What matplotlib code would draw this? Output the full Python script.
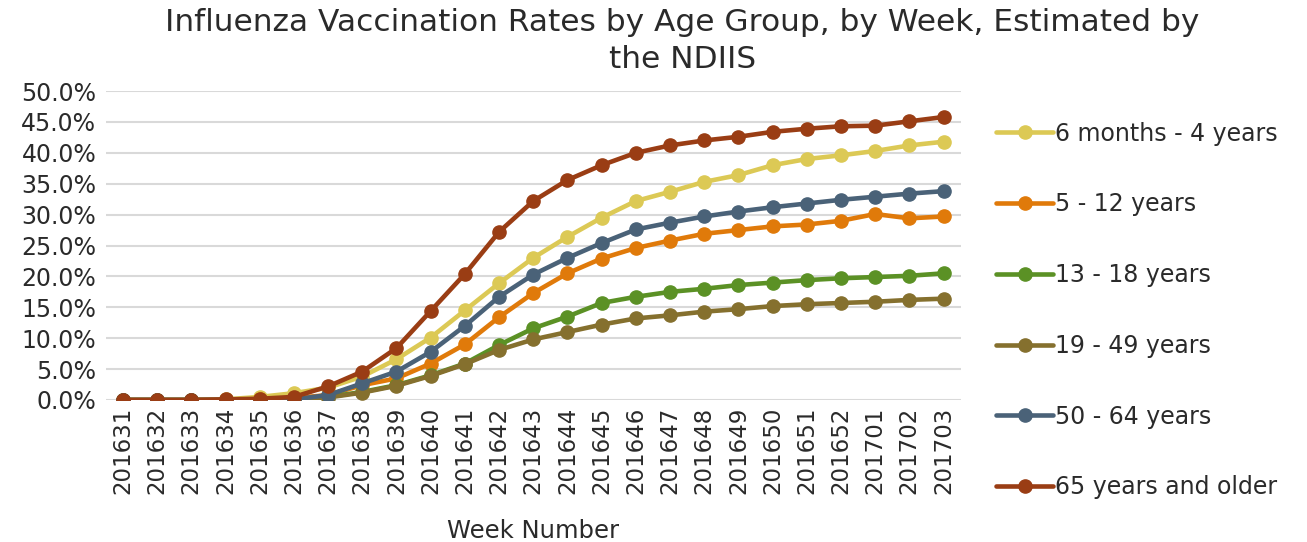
import matplotlib
matplotlib.use("Agg")
import matplotlib.pyplot as plt
from matplotlib.ticker import PercentFormatter

weeks = ["201631", "201632", "201633", "201634", "201635", "201636", "201637", "201638",
         "201639", "201640", "201641", "201642", "201643", "201644", "201645", "201646",
         "201647", "201648", "201649", "201650", "201651", "201652", "201701", "201702", "201703"]

age_6m_4y = [0.0, 0.0, 0.0, 0.1, 0.5, 1.1, 2.0, 3.8, 6.6, 10.1, 14.5, 18.9, 23.0,
             26.4, 29.5, 32.2, 33.7, 35.3, 36.4, 38.0, 39.0, 39.6, 40.3, 41.2, 41.8]
age_5_12 = [0.0, 0.0, 0.0, 0.0, 0.1, 0.3, 0.8, 2.4, 3.5, 5.9, 9.0, 13.4, 17.3,
            20.5, 22.9, 24.6, 25.8, 26.9, 27.5, 28.1, 28.4, 29.0, 30.1, 29.4, 29.7]
age_13_18 = [0.0, 0.0, 0.0, 0.0, 0.0, 0.1, 0.5, 1.3, 2.4, 4.0, 5.9, 8.9, 11.6,
             13.5, 15.7, 16.7, 17.5, 18.0, 18.6, 19.0, 19.4, 19.7, 19.9, 20.1, 20.5]
age_19_49 = [0.0, 0.0, 0.0, 0.0, 0.0, 0.1, 0.4, 1.2, 2.3, 3.9, 5.8, 8.1, 9.8,
             11.0, 12.2, 13.2, 13.7, 14.3, 14.7, 15.2, 15.5, 15.7, 15.9, 16.2, 16.4]
age_50_64 = [0.0, 0.0, 0.0, 0.0, 0.0, 0.1, 0.8, 2.7, 4.6, 7.8, 12.0, 16.7, 20.3,
             23.0, 25.4, 27.6, 28.7, 29.7, 30.5, 31.2, 31.8, 32.4, 32.9, 33.4, 33.8]
age_65_up = [0.0, 0.0, 0.0, 0.1, 0.2, 0.5, 2.2, 4.6, 8.4, 14.4, 20.4, 27.2, 32.2,
             35.6, 38.0, 40.0, 41.2, 42.0, 42.6, 43.4, 43.9, 44.3, 44.4, 45.1, 45.8]

series_labels = ["6 months - 4 years", "5 - 12 years", "13 - 18 years",
                 "19 - 49 years", "50 - 64 years", "65 years and older"]
series_values = [age_6m_4y, age_5_12, age_13_18, age_19_49, age_50_64, age_65_up]
colors = ["#DCC955", "#E07A0A", "#5B9125", "#85702E", "#4A6278", "#9A3D14"]

plt.rcParams['font.family'] = ['DejaVu Sans']
txt_color = '#2a2a2a'

fig = plt.figure(figsize=(13.07, 5.42), dpi=100)
ax = fig.add_axes([0.081, 0.262, 0.654, 0.570])

x = list(range(len(weeks)))
for vals, lab, col in zip(series_values, series_labels, colors):
    ax.plot(x, vals, color=col, lw=3.3, marker='o', markersize=9.5, label=lab,
            solid_capstyle='round')

ax.set_xlim(-0.5, len(weeks) - 0.5)
ax.set_ylim(0, 50)
ax.set_yticks([0, 5, 10, 15, 20, 25, 30, 35, 40, 45, 50])
ax.yaxis.set_major_formatter(PercentFormatter(decimals=1))
ax.set_xticks(x)
ax.set_xticklabels(weeks, rotation=90)
ax.tick_params(axis='x', length=0, labelsize=16.5, colors=txt_color, pad=5)
ax.tick_params(axis='y', length=0, labelsize=17, colors=txt_color, pad=7)
ax.grid(axis='y', color='#D9D9D9', lw=1.5)
ax.set_axisbelow(True)
for s in ax.spines.values():
    s.set_visible(False)
ax.set_xlabel("Week Number", fontsize=17.5, color=txt_color, labelpad=18)

fig.suptitle("Influenza Vaccination Rates by Age Group, by Week, Estimated by\nthe NDIIS",
             x=0.522, y=0.985, fontsize=22.5, color=txt_color, linespacing=1.35)

fig.legend(loc='upper left', bbox_to_anchor=(0.755, 0.793), frameon=False,
           fontsize=17, labelspacing=1.98, handlelength=2.4, handletextpad=0.1,
           borderaxespad=0, labelcolor=txt_color)

fig.savefig("out.png", dpi=100)
